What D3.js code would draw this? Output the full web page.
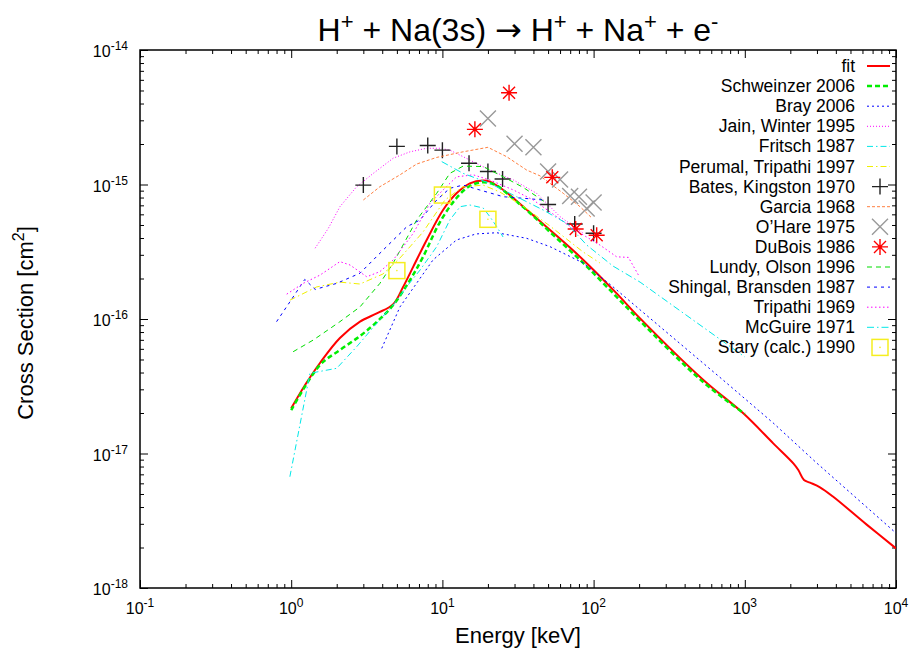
<!DOCTYPE html>
<html>
<head>
<meta charset="utf-8">
<script src="https://d3js.org/d3.v7.min.js"></script>
<style>
  body { margin: 0; background: #fff; }
  svg { font-family: "Liberation Sans", Arial, sans-serif; }
  .axis path { display: none; }
  .axis line { stroke: #000; stroke-width: 1; }
  .tick-lbl { font-size: 16px; }
  .key { font-size: 17.5px; }
</style>
</head>
<body>
<script>
// energy [keV], cross section [cm^2]
var fit = [[1.0,2.17e-17],[1.25,3.3e-17],[1.55,4.71e-17],[2.1,7.22e-17],[2.85,9.55e-17],[3.68,1.10e-16],[4.73,1.29e-16],
  [5.51,1.74e-16],[6.42,2.45e-16],[7.87,3.87e-16],[10.1,6.46e-16],[12.4,8.6e-16],[15.2,1.02e-15],[18.6,1.07e-15],
  [20.6,1.05e-15],[25.3,9.1e-16],[34.3,6.84e-16],[51.5,4.59e-16],[85.5,2.75e-16],[142,1.55e-16],[203,1.01e-16],
  [532,3.52e-17],[977,1.99e-17],[1542,1.19e-17],[2094,8.45e-18],[2260,7.54e-18],[2463,6.35e-18],[2700,6.07e-18],
  [3143,5.61e-18],[3846,4.77e-18],[6400,2.96e-18],[10000,1.97e-18]];
var schweinzer = [[1.0,2.10e-17],[1.55,4.55e-17],[2.1,5.88e-17],[2.85,7.47e-17],[3.68,9.5e-17],[4.73,1.27e-16],
  [6.11,1.95e-16],[7.44,2.89e-16],[9.64,5.26e-16],[12.4,7.94e-16],[15.2,9.75e-16],[18.6,1.04e-15],[22.6,9.9e-16],
  [28,8.2e-16],[37.9,6.14e-16],[51.5,4.43e-16],[85.3,2.61e-16],[142,1.46e-16],[203,9.66e-17],[530,3.40e-17],[1000,1.97e-17]];
var bray = [[3.97,6.05e-17],[5.24,1.23e-16],[8.67,2.75e-16],[12.4,3.87e-16],[16.7,4.29e-16],[22.9,4.38e-16],
  [36.1,3.98e-16],[51.5,3.45e-16],[85.3,2.61e-16],[134,1.74e-16],[203,1.17e-16],[718,3.52e-17],[1538,1.69e-17],
  [2989,8.5e-18],[10000,2.56e-18]];
var jain = [[1.44,3.36e-16],[1.76,4.72e-16],[2.1,6.84e-16],[2.71,9.63e-16],[3.49,1.21e-15],[4.73,1.57e-15],
  [6.11,1.75e-15],[7.87,1.86e-15],[9.64,1.86e-15],[11.2,1.80e-15],[15.2,1.52e-15],[20.6,1.28e-15],[29.5,1.08e-15],
  [42,8.6e-16],[60,5.77e-16],[85.5,4.34e-16]];
var fritsch = [[0.98,6.72e-18],[1.33,3.95e-17],[2.0,4.30e-17],[2.71,6.22e-17],[3.68,9.29e-17],[4.73,1.27e-16],
  [5.81,1.74e-16],[7.11,2.31e-16],[9.17,3.45e-16],[11.2,5.45e-16],[13.1,6.84e-16],[15.2,7.04e-16],[18.6,6.69e-16],
  [20.6,5.77e-16],[22.9,4.85e-16],[25.2,4.07e-16]];
var perumal = [[0.98,1.38e-16],[1.47,1.73e-16],[2.1,1.88e-16],[2.85,1.82e-16],[4.04,2.16e-16],[5.24,2.84e-16],
  [7.44,4.43e-16],[10.4,7.67e-16],[13.6,9.58e-16],[18.6,9.9e-16],[24,8.79e-16],[34.1,6.92e-16],[51.5,4.91e-16],
  [85.3,3.15e-16],[110,2.61e-16]];
var batesE = [3, 5, 8, 10, 15, 20, 25, 50, 75, 100];
var batesS = [9.9e-16, 1.92e-15, 1.95e-15, 1.80e-15, 1.44e-15, 1.25e-15, 1.10e-15, 7.1e-16, 5.08e-16, 4.34e-16];
var garcia = [[3.0,7.67e-16],[3.86,9.63e-16],[5.24,1.18e-15],[6.76,1.42e-15],[9.17,1.59e-15],[13.7,1.75e-15],
  [20,1.89e-15],[26.6,1.61e-15],[36.1,1.28e-15],[44.2,1.16e-15],[63,8.6e-16],[81.3,6.84e-16],[97.5,5.63e-16]];
var ohareE = [20, 30, 40, 50, 60, 70, 80, 90, 100];
var ohareS = [3.1e-15, 2.01e-15, 1.89e-15, 1.25e-15, 1.09e-15, 8.2e-16, 8.11e-16, 6.63e-16, 7.35e-16];
var duboisE = [16.4, 27.6, 53.3, 76.1, 104.8];
var duboisS = [2.57e-15, 4.81e-15, 1.13e-15, 4.67e-16, 4.19e-16];
var lundy = [[1.03,5.71e-17],[1.4,6.98e-17],[2.1,9.55e-17],[2.85,1.23e-16],[3.86,1.84e-16],[4.73,2.61e-16],
  [6.76,5.45e-16],[9.17,8.6e-16],[11.2,1.21e-15],[13.7,1.37e-15],[18.6,1.36e-15],[25.3,1.14e-15],[34.3,9.5e-16],
  [47.7,7.41e-16]];
var shingal = [[0.8,9.55e-17],[0.98,1.34e-16],[1.23,1.97e-16],[1.44,1.66e-16],[2.0,1.84e-16],[2.85,2.19e-16],
  [4.06,3.26e-16],[5.81,4.85e-16],[7.11,5.45e-16],[9.17,7.67e-16],[11.2,9.37e-16],[13.7,9.9e-16],[17.7,9.1e-16],
  [25.3,8.11e-16],[34.3,7.9e-16],[46.4,7.67e-16]];
var tripathi = [[0.934,1.53e-16],[1.2,1.84e-16],[1.55,2.12e-16],[2.1,2.67e-16],[2.45,2.52e-16],[3.16,2.06e-16],
  [3.86,2.25e-16],[4.73,2.75e-16],[6.42,4.34e-16],[8.28,7.25e-16],[10.1,9.1e-16],[12.4,1.14e-15],[16,1.18e-15],
  [20.6,1.08e-15],[29.5,9.1e-16],[39.9,7.67e-16],[57,5.77e-16],[75.3,4.59e-16],[110,3.55e-16],[142,2.9e-16],
  [170,2.87e-16],[198,2.12e-16]];
var mcguire = [[9.9,1.48e-15],[13.7,1.21e-15],[20.6,1.02e-15],[31,8.11e-16],[46.4,6.46e-16],[66.4,5.14e-16],
  [90,3.55e-16],[134,2.48e-16],[203,1.88e-16],[434,1.02e-16],[1000,5.22e-17]];
var staryE = [5, 10, 20];
var staryS = [2.29e-16, 8.35e-16, 5.51e-16];

var xTicks = [0.1, 1, 10, 100, 1000, 10000];
var yTicks = [1e-18, 1e-17, 1e-16, 1e-15, 1e-14];

function zip(a, b) { return a.map(function(v, i) { return [v, b[i]]; }); }

var series = [
  {name: "fit", data: fit, color: "#ff0000", width: 2, dash: null, smooth: true},
  {name: "Schweinzer 2006", data: schweinzer, color: "#00ee00", width: 2.5, dash: "5,3", smooth: true},
  {name: "Bray 2006", data: bray, color: "#0000ff", width: 1, dash: "2,3"},
  {name: "Jain, Winter 1995", data: jain, color: "#ff00ff", width: 1, dash: "1,2"},
  {name: "Fritsch 1987", data: fritsch, color: "#00e8e8", width: 1, dash: "6,3,1.5,3"},
  {name: "Perumal, Tripathi 1997", data: perumal, color: "#f0f000", width: 1, dash: "6,3,1.5,3"},
  {name: "Bates, Kingston 1970", data: zip(batesE, batesS), color: "#222", marker: "plus"},
  {name: "Garcia 1968", data: garcia, color: "#ff7f40", width: 1, dash: "3,2"},
  {name: "O\u2019Hare 1975", data: zip(ohareE, ohareS), color: "#999", marker: "cross"},
  {name: "DuBois 1986", data: zip(duboisE, duboisS), color: "#ff0000", marker: "star"},
  {name: "Lundy, Olson 1996", data: lundy, color: "#00dd00", width: 1, dash: "5,4"},
  {name: "Shingal, Bransden 1987", data: shingal, color: "#0000ff", width: 1, dash: "3,4"},
  {name: "Tripathi 1969", data: tripathi, color: "#ff00ff", width: 1, dash: "1.5,2.5"},
  {name: "McGuire 1971", data: mcguire, color: "#00e8e8", width: 1, dash: "7,3,1.5,3"},
  {name: "Stary (calc.) 1990", data: zip(staryE, staryS), color: "#f5ee20", marker: "square"}
];

var W = 912, H = 650;
var pL = 140, pR = 896, pT = 50, pB = 588;

var svg = d3.select("body").append("svg").attr("width", W).attr("height", H);

var x = d3.scaleLog().domain([0.1, 10000]).range([pL, pR]);
var y = d3.scaleLog().domain([1e-18, 1e-14]).range([pB, pT]);

function minors(majors) {
  var out = [];
  majors.slice(0, -1).forEach(function(m) {
    for (var k = 2; k < 10; k++) out.push(m * k);
  });
  return out;
}

// inward ticks on all four sides, like gnuplot
function ticks(axisFn, scale, vals, size, tx) {
  svg.append("g").attr("class", "axis").attr("transform", tx)
    .call(axisFn(scale).tickValues(vals).tickSize(-size).tickSizeOuter(0).tickFormat(""));
}
[[xTicks, 8], [minors(xTicks), 4]].forEach(function(t) {
  ticks(d3.axisBottom, x, t[0], t[1], "translate(0," + pB + ")");
  ticks(d3.axisTop, x, t[0], t[1], "translate(0," + pT + ")");
});
[[yTicks, 8], [minors(yTicks), 4]].forEach(function(t) {
  ticks(d3.axisLeft, y, t[0], t[1], "translate(" + pL + ",0)");
  ticks(d3.axisRight, y, t[0], t[1], "translate(" + pR + ",0)");
});

svg.append("rect").attr("x", pL).attr("y", pT)
  .attr("width", pR - pL).attr("height", pB - pT)
  .attr("fill", "none").attr("stroke", "#000").attr("stroke-width", 1.5);

// text with superscripts: parts = [[text, isSup, font], ...], raise in px
function rich(t, parts, supSize, raise) {
  var up = false;
  parts.forEach(function(p) {
    var s = t.append("tspan").text(p[0]);
    if (p[2]) s.attr("font-family", p[2]);
    if (p[1]) {
      s.attr("font-size", supSize);
      if (!up) { s.attr("dy", -raise); up = true; }
    } else if (up) { s.attr("dy", raise); up = false; }
  });
  return t;
}
function pow(v) { return Math.round(Math.log10(v)); }

xTicks.forEach(function(v) {
  rich(svg.append("text").attr("class", "tick-lbl").attr("x", x(v)).attr("y", pB + 26)
    .attr("text-anchor", "middle"), [["10"], [String(pow(v)), true]], "12px", 7);
});
yTicks.forEach(function(v) {
  rich(svg.append("text").attr("class", "tick-lbl").attr("x", pL - 12).attr("y", y(v) + 7)
    .attr("text-anchor", "end"), [["10"], [String(pow(v)), true]], "12px", 7);
});

rich(svg.append("text").attr("x", (pL + pR) / 2).attr("y", 41)
  .attr("text-anchor", "middle").attr("font-size", 32),
  [["H"], ["+", true], [" + Na(3s) "], ["\u2192", false, "DejaVu Sans"], [" H"], ["+", true], [" + Na"], ["+", true], [" + e"], ["-", true]],
  "22px", 12);

svg.append("text").attr("x", (pL + pR) / 2).attr("y", 643)
  .attr("text-anchor", "middle").attr("font-size", 22).text("Energy [keV]");

rich(svg.append("text").attr("transform", "translate(33,323) rotate(-90)")
  .attr("text-anchor", "middle").attr("font-size", 22),
  [["Cross Section [cm"], ["2", true], ["]"]], "16px", 9);

svg.append("clipPath").attr("id", "plot").append("rect")
  .attr("x", pL).attr("y", pT).attr("width", pR - pL).attr("height", pB - pT);
var plot = svg.append("g").attr("clip-path", "url(#plot)");

var line = d3.line().x(function(d) { return x(d[0]); }).y(function(d) { return y(d[1]); });
var smooth = d3.line().curve(d3.curveCatmullRom.alpha(0.5))
  .x(function(d) { return x(d[0]); }).y(function(d) { return y(d[1]); });

var R = 8;
function marker(g, kind, color) {
  var p;
  if (kind === "plus") p = "M" + (-R) + ",0H" + R + "M0," + (-R) + "V" + R;
  if (kind === "cross") p = "M" + (-R) + "," + (-R) + "L" + R + "," + R + "M" + (-R) + "," + R + "L" + R + "," + (-R);
  if (kind === "star") p = "M" + (-R) + ",0H" + R + "M0," + (-R) + "V" + R +
    "M" + (-R * 0.75) + "," + (-R * 0.75) + "L" + (R * 0.75) + "," + (R * 0.75) +
    "M" + (-R * 0.75) + "," + (R * 0.75) + "L" + (R * 0.75) + "," + (-R * 0.75);
  if (kind === "square") {
    g.append("rect").attr("x", -R).attr("y", -R).attr("width", 2 * R).attr("height", 2 * R)
      .attr("fill", "none").attr("stroke", color).attr("stroke-width", 1.5);
    g.append("circle").attr("r", 0.8).attr("fill", color);
    return;
  }
  g.append("path").attr("d", p).attr("fill", "none").attr("stroke", color).attr("stroke-width", 1.4);
  if (kind === "star") g.append("circle").attr("r", 1.5).attr("fill", color);
}

series.forEach(function(s) {
  if (s.marker) {
    plot.selectAll(null).data(s.data).enter().append("g")
      .attr("transform", function(d) { return "translate(" + x(d[0]) + "," + y(d[1]) + ")"; })
      .each(function() { marker(d3.select(this), s.marker, s.color); });
  } else {
    plot.append("path").datum(s.data)
      .attr("d", s.smooth ? smooth : line)
      .attr("fill", "none").attr("stroke", s.color)
      .attr("stroke-linejoin", "round")
      .attr("stroke-width", s.width).attr("stroke-dasharray", s.dash);
  }
});

// key, top right
var key = svg.append("g");
series.forEach(function(s, i) {
  var ky = 72 + i * 20.1;
  key.append("text").attr("class", "key").attr("x", 855).attr("y", ky)
    .attr("text-anchor", "end").text(s.name);
  if (s.marker) {
    marker(key.append("g").attr("transform", "translate(880," + (ky - 6) + ")"), s.marker, s.color);
  } else {
    key.append("line").attr("x1", 867).attr("x2", 890).attr("y1", ky - 6).attr("y2", ky - 6)
      .attr("stroke", s.color).attr("stroke-width", s.width).attr("stroke-dasharray", s.dash);
  }
});
</script>
</body>
</html>
